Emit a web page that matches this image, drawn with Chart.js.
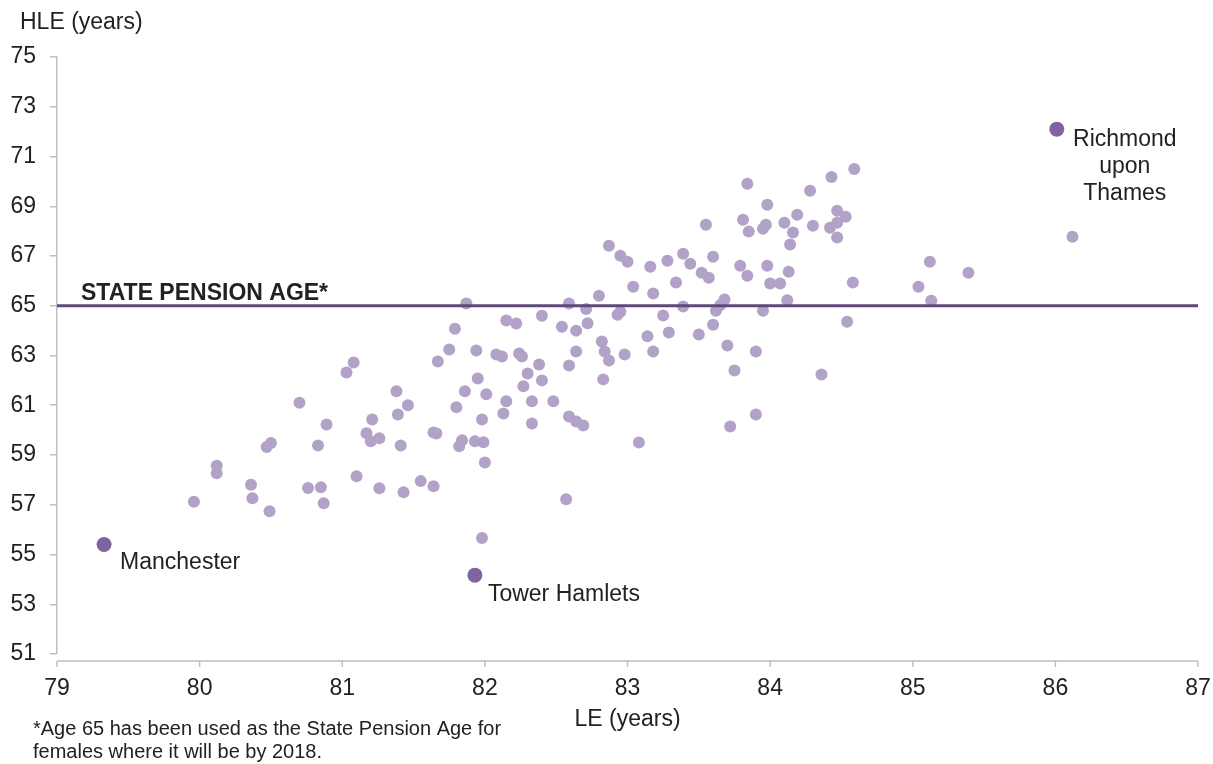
<!DOCTYPE html>
<html><head><meta charset="utf-8">
<script src="https://cdn.jsdelivr.net/npm/chart.js@4.4.1/dist/chart.umd.min.js"></script>
<style>html,body{margin:0;padding:0;background:#fff;overflow:hidden}#wrap{width:1213px;height:764px}</style>
</head><body><div id="wrap"><canvas id="c" width="1213" height="764"></canvas></div>
<script>
// ---- data ----
const leValues = [
79.96,80.12,80.12,80.36,80.37,80.49,80.47,80.50,80.70,80.83,80.89,80.76,80.85,80.87,81.03,81.08,81.21,81.17,81.20,81.26,
81.10,81.26,81.87,81.79,81.75,81.67,81.94,81.38,81.46,81.39,81.41,81.64,81.66,81.80,81.86,81.95,82.01,81.98,81.84,81.82,
81.93,81.99,82.00,81.43,81.55,81.64,82.57,81.98,82.08,82.12,82.15,82.22,82.24,82.26,82.38,82.30,82.40,82.27,82.15,82.13,
82.33,82.48,82.33,82.40,82.54,82.59,82.64,82.72,82.71,82.80,82.59,82.64,82.82,82.84,82.87,82.83,82.59,82.64,82.69,82.93,
82.95,82.98,83.04,82.87,82.95,83.00,83.16,83.18,83.28,83.34,83.39,83.44,83.52,83.57,83.55,83.60,83.62,83.65,83.68,83.79,
83.84,83.81,83.84,83.85,83.98,83.95,83.97,83.98,84.00,84.07,84.13,84.12,84.10,84.14,84.16,84.19,84.28,84.30,84.43,84.59,
84.47,84.53,84.42,84.47,84.47,84.58,83.39,83.95,83.14,83.18,83.25,83.29,83.50,83.60,83.70,83.75,83.72,83.90,83.90,84.36,
84.54,83.08,85.12,85.39,85.04,85.13,86.12
];
const hleValues = [
57.12,58.57,58.27,57.80,57.26,56.74,59.32,59.48,61.10,59.38,60.23,57.67,57.70,57.06,62.32,62.72,60.43,59.87,59.55,59.67,
58.15,57.66,65.09,64.08,63.24,62.76,63.20,61.56,61.00,60.63,59.38,59.90,59.86,60.92,61.56,62.08,61.44,60.43,59.59,59.35,
59.55,59.51,58.70,57.50,57.95,57.74,57.22,55.66,63.04,62.96,64.41,64.29,63.08,62.96,62.64,62.28,62.00,61.76,61.16,60.67,
61.16,61.16,60.27,64.60,64.16,65.09,64.00,64.30,64.87,65.40,62.60,63.16,63.56,63.16,62.80,62.04,60.55,60.35,60.19,64.64,
64.76,63.04,65.76,67.41,67.01,66.77,66.57,65.49,66.81,65.93,67.09,66.69,66.33,66.13,68.26,66.97,64.80,65.02,65.25,66.61,
66.21,68.46,69.90,67.98,69.06,68.10,68.26,66.61,65.89,65.89,66.37,65.22,68.34,67.46,67.94,68.66,69.62,68.22,70.18,70.50,
68.82,68.58,68.14,68.34,67.74,65.93,64.97,64.80,63.77,63.16,64.61,63.92,63.84,64.24,63.40,62.40,60.15,63.16,60.63,62.24,
64.36,59.50,66.77,66.33,65.76,65.20,67.77
];
const highlightNames = ['Manchester', 'Tower Hamlets', 'Richmond upon Thames'];
const highlightLE = [79.33, 81.93, 86.01];
const highlightHLE = [55.40, 54.17, 72.10];
const xTicks = [79, 80, 81, 82, 83, 84, 85, 86, 87];
const yTicks = [51, 53, 55, 57, 59, 61, 63, 65, 67, 69, 71, 73, 75];
const pensionAge = 65;
const pensionLabel = 'STATE PENSION AGE*';
const xTitle = 'LE (years)';
const yTitle = 'HLE (years)';
const footnote = ['*Age 65 has been used as the State Pension Age for', 'females where it will be by 2018.'];

// ---- styles ----
const FONT = '"Liberation Sans", Arial, sans-serif';
const TEXT = '#222222';
const AXIS = '#bfbfbf';
const labelStyles = [
  {dx: 16, dy: 18, align: 'left', wrap: false},
  {dx: 13, dy: 20, align: 'left', wrap: false},
  {dx: 68, dy: 11, align: 'center', wrap: true, gap: 27}
];

const scatterData = leValues.map((x, i) => ({x: x, y: hleValues[i]}));
const highlightData = highlightLE.map((x, i) => ({x: x, y: highlightHLE[i]}));
const pensionData = [{x: xTicks[0], y: pensionAge}, {x: xTicks[xTicks.length - 1], y: pensionAge}];

const decor = {
  id: 'decor',
  afterDraw(chart) {
    const ctx = chart.ctx, xs = chart.scales.x, ys = chart.scales.y, ca = chart.chartArea;
    ctx.save();
    // detached x axis line with ticks
    const ay = ca.bottom + 7;
    ctx.strokeStyle = AXIS; ctx.lineWidth = 1.5;
    ctx.beginPath();
    ctx.moveTo(xs.getPixelForValue(xTicks[0]), ay);
    ctx.lineTo(xs.getPixelForValue(xTicks[xTicks.length - 1]), ay);
    xTicks.forEach(v => { const px = xs.getPixelForValue(v); ctx.moveTo(px, ay); ctx.lineTo(px, ay + 6); });
    ctx.stroke();
    // texts
    ctx.fillStyle = TEXT;
    ctx.textBaseline = 'middle';
    ctx.font = '23px ' + FONT;
    ctx.textAlign = 'left';
    ctx.fillText(yTitle, 20, 23);
    ctx.textAlign = 'center';
    ctx.fillText(xTitle, (xs.left + xs.right) / 2, 720);
    ctx.textAlign = 'left';
    ctx.font = '20px ' + FONT;
    footnote.forEach((t, i) => ctx.fillText(t, 33, 729 + i * 23));
    // pension label
    ctx.font = 'bold 23px ' + FONT;
    ctx.fillText(pensionLabel, xs.getPixelForValue(xTicks[0]) + 24, ys.getPixelForValue(pensionAge) - 12);
    // highlight labels
    ctx.font = '23px ' + FONT;
    highlightNames.forEach((name, i) => {
      const st = labelStyles[i];
      const px = xs.getPixelForValue(highlightLE[i]) + st.dx;
      const py = ys.getPixelForValue(highlightHLE[i]) + st.dy;
      ctx.textAlign = st.align;
      if (st.wrap) {
        name.split(' ').forEach((w, k) => ctx.fillText(w, px, py + k * st.gap));
      } else {
        ctx.fillText(name, px, py);
      }
    });
    ctx.restore();
  }
};

new Chart(document.getElementById('c'), {
  type: 'scatter',
  data: {
    datasets: [
      {type: 'line', data: pensionData, borderColor: '#5f497a', borderWidth: 3, pointRadius: 0, fill: false, order: 0},
      {data: highlightData, backgroundColor: '#8064a2', borderWidth: 0, pointRadius: 7.5, order: 1},
      {data: scatterData, backgroundColor: '#b3a2c7', borderWidth: 0, pointRadius: 6, order: 2}
    ]
  },
  options: {
    responsive: false,
    devicePixelRatio: 1,
    animation: false,
    events: [],
    layout: {padding: {top: 57, right: 15, left: 0, bottom: 0}},
    plugins: {legend: {display: false}, tooltip: {enabled: false}},
    scales: {
      x: {
        type: 'linear', min: xTicks[0], max: xTicks[xTicks.length - 1],
        afterBuildTicks: s => { s.ticks = xTicks.map(v => ({value: v})); },
        ticks: {font: {size: 23, family: FONT}, color: TEXT, padding: 21},
        grid: {display: false, drawTicks: false},
        border: {display: false},
        afterFit: s => { s.height = 110; s.paddingRight = 0; s.paddingLeft = 0; }
      },
      y: {
        type: 'linear', min: yTicks[0], max: yTicks[yTicks.length - 1],
        afterBuildTicks: s => { s.ticks = yTicks.map(v => ({value: v})); },
        ticks: {font: {size: 23, family: FONT}, color: TEXT, padding: 14},
        grid: {display: true, drawOnChartArea: false, drawTicks: true, tickLength: 7, color: AXIS, lineWidth: 1.5},
        border: {display: true, color: AXIS, width: 1.5},
        afterFit: s => { s.width = 57; s.paddingTop = 0; s.paddingBottom = 0; }
      }
    }
  },
  plugins: [decor]
});
</script>
</body></html>
